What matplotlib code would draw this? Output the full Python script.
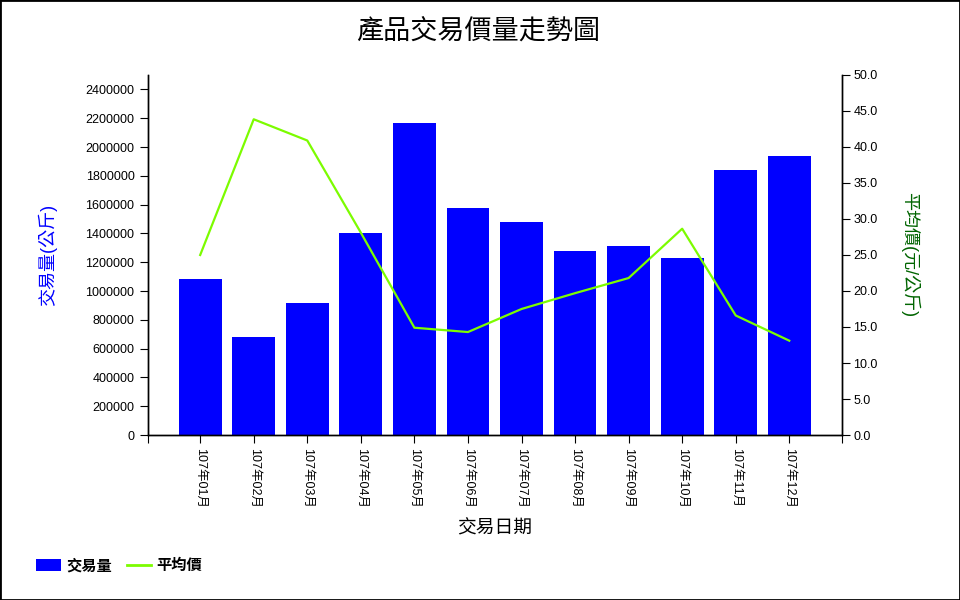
import matplotlib
matplotlib.use('Agg')
import matplotlib.pyplot as plt
from matplotlib.patches import Rectangle, Patch
from matplotlib.lines import Line2D
from matplotlib.ticker import FormatStrFormatter

# 資料
months = ['107年01月', '107年02月', '107年03月', '107年04月', '107年05月', '107年06月',
          '107年07月', '107年08月', '107年09月', '107年10月', '107年11月', '107年12月']
volume = [1083000, 680500, 918800, 1402800, 2166700, 1576400,
          1479200, 1277800, 1312500, 1229200, 1840300, 1937500]
avg_price = [25.0, 43.85, 40.9, 28.1, 14.9, 14.3, 17.5, 19.7, 21.8, 28.65, 16.6, 13.1]

plt.rcParams['font.family'] = ['Liberation Sans', 'Noto Sans CJK TC']
plt.rcParams['axes.linewidth'] = 1.0

fig = plt.figure(figsize=(9.6, 6), dpi=100)
ax = fig.add_axes([147.7 / 960, 1 - 435 / 600, 694.6 / 960, 360 / 600])
ax2 = ax.twinx()

x = list(range(len(months)))
ax.bar(x, volume, width=0.8, color='#0000ff', zorder=2)
ax2.plot(x, avg_price, color='#7cfc00', linewidth=1.6, zorder=3)

ax.set_xlim(-0.98, 11.99)
ax.set_ylim(0, 2500000)
ax2.set_ylim(0, 50)

ax.set_xticks(x)
ax.set_xticklabels(months, rotation=270, fontsize=9)
ax.set_xticks([-0.98, 11.99], minor=True)
ax.tick_params(axis='x', which='both', length=6, width=0.8, direction='out', pad=3)
ax.set_yticks(range(0, 2400001, 200000))
ax.yaxis.set_major_formatter(FormatStrFormatter('%d'))
ax.tick_params(axis='y', length=6, width=0.8, labelsize=9)

ax2.set_yticks(range(0, 51, 5))
ax2.yaxis.set_major_formatter(FormatStrFormatter('%.1f'))
ax2.tick_params(axis='y', length=6, width=0.8, labelsize=9, pad=2)

for a in (ax, ax2):
    a.spines['top'].set_visible(False)

ax.set_ylabel('交易量(公斤)', color='#0000ff', fontsize=13)
ax.yaxis.set_label_coords(-0.13, 0.5)
ax2.set_ylabel('平均價(元/公斤)', color='#006400', fontsize=13, rotation=270, va='center')
ax2.yaxis.set_label_coords(1.0975, 0.5)

ax.set_xlabel('交易日期', fontsize=13.5)
ax.xaxis.set_label_coords(0.5, -0.235)

fig.text(0.498, 1 - 33 / 600, '產品交易價量走勢圖', ha='center', va='center', fontsize=19.5)

handles = [Patch(facecolor='#0000ff'), Line2D([0], [0], color='#7cfc00', linewidth=2)]
fig.legend(handles, ['交易量', '平均價'], loc='center left',
           bbox_to_anchor=(30 / 960, 1 - 566 / 600), ncol=2, frameon=False,
           prop={'size': 11, 'weight': 'bold'}, handlelength=1.6, handleheight=0.8,
           handletextpad=0.35, columnspacing=1.0, borderaxespad=0)

fig.patches.append(Rectangle((0, 0), 1, 1, transform=fig.transFigure,
                             fill=False, edgecolor='black', linewidth=2))

fig.savefig('out.png', dpi=100)
